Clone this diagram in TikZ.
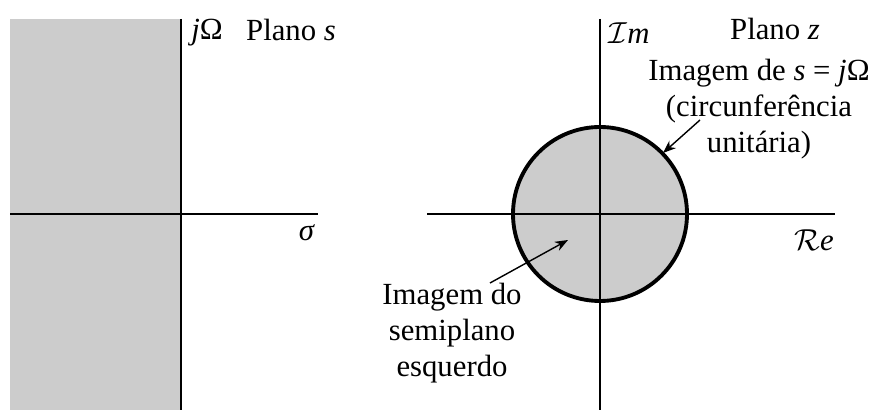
\documentclass[tikz,border=0pt]{standalone}
\usepackage{fontspec}
\setmainfont{Liberation Serif}
\usetikzlibrary{arrows.meta}
\definecolor{regiongray}{HTML}{CCCCCC}

\begin{document}
\begin{tikzpicture}[x=0.02cm,y=-0.02cm]
\tikzset{
  axisline/.style={draw=black,line width=0.9pt},
  unitcircle/.style={draw=black,fill=regiongray,line width=2.2pt},
  label/.style={font=\fontsize{17.5}{20.5}\selectfont,inner sep=0pt},
  pointer/.style={draw=black,line width=0.8pt,-{Stealth[length=2.6mm,width=2.0mm]}}
}
\useasboundingbox (0,0) rectangle (878,411);
% plano s
\fill[regiongray] (10,19) rectangle (181,410);
\coordinate (s_top) at (181,19);
\coordinate (s_bot) at (181,410);
\coordinate (s_left) at (10,214);
\coordinate (s_right) at (318,214);
\draw[axisline] (s_top) -- (s_bot);
\draw[axisline] (s_left) -- (s_right);
\node[label] (l_jw) at (207,33) {\textit{j}Ω};
\node[label] (l_ps) at (291,30) {Plano \textit{s}};
\node[label] (l_sigma) at (307,233) {\textit{σ}};
% plano z
\coordinate (z_o) at (600,214);
\draw[unitcircle] (z_o) circle[radius=87];
\coordinate (z_top) at (600,19);
\coordinate (z_bot) at (600,410);
\coordinate (z_left) at (427,214);
\coordinate (z_right) at (835,214);
\draw[axisline] (z_top) -- (z_bot);
\draw[axisline] (z_left) -- (z_right);
\node[label] (l_im) at (629,33) {$\mathcal{I}$\textit{m}};
\node[label] (l_pz) at (775,29) {Plano \textit{z}};
\node[label] (l_re) at (814,240) {$\mathcal{R}$\textit{e}};
\node[label,align=center] (l_circ) at (759,109) {Imagem de \textit{s} = \textit{j}Ω\\(circunferência\\unitária)};
\node[label,align=center] (l_semi) at (452,333) {Imagem do\\semiplano\\esquerdo};
\coordinate (a_circ) at (700,120);
\coordinate (t_circ) at (663,153);
\coordinate (a_semi) at (490,283);
\coordinate (t_semi) at (568,240);
\draw[pointer] (a_circ) -- (t_circ);
\draw[pointer] (a_semi) -- (t_semi);
\end{tikzpicture}
\end{document}
